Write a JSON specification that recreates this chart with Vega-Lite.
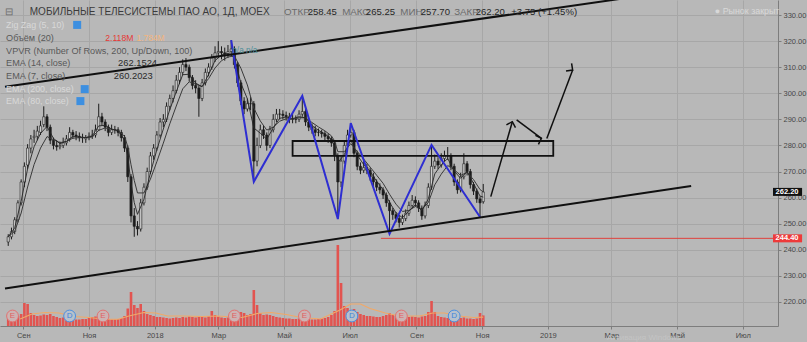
{
"$schema":"https://vega.github.io/schema/vega-lite/v6.json",
"width":778,"height":326,
"autosize":{"type":"none"},
"padding":{"left":0,"top":0,"right":29,"bottom":16},
"background":"#b8b8b8",
"config":{"view":{"stroke":null},"font":"Liberation Sans","axis":{"gridColor":"#a7a7a7","gridWidth":1,"domainColor":"#7d7d7d","tickColor":"#7d7d7d","labelColor":"#474747","labelFontSize":7.5,"labelFont":"Liberation Sans","labelOverlap":false}},
"datasets":{
"candles":[
{"d":"2017-08-18","o":243,"h":246,"l":241.5,"c":245,"v":1.5},
{"d":"2017-08-21","o":245,"h":248.5,"l":244,"c":247,"v":1.3},
{"d":"2017-08-24","o":247,"h":252.5,"l":246,"c":251.5,"v":1.6},
{"d":"2017-08-27","o":251.5,"h":259,"l":250.5,"c":258,"v":2.0},
{"d":"2017-08-30","o":258,"h":267,"l":257,"c":266,"v":2.4},
{"d":"2017-09-02","o":266,"h":273.5,"l":264,"c":272,"v":4.6},
{"d":"2017-09-05","o":272.5,"h":280.5,"l":271,"c":279,"v":4.4},
{"d":"2017-09-08","o":279,"h":284,"l":277,"c":282.5,"v":2.6},
{"d":"2017-09-11","o":283,"h":286,"l":281,"c":283.5,"v":2.2},
{"d":"2017-09-14","o":283.5,"h":287.5,"l":282,"c":285.5,"v":2.0},
{"d":"2017-09-17","o":285,"h":289.5,"l":284,"c":287.5,"v":2.1},
{"d":"2017-09-20","o":288,"h":295,"l":287,"c":291,"v":2.3},
{"d":"2017-09-23","o":291,"h":292,"l":285.5,"c":287,"v":2.2},
{"d":"2017-09-26","o":287,"h":288,"l":280.5,"c":282,"v":2.4},
{"d":"2017-09-29","o":282,"h":283,"l":278.5,"c":280,"v":2.0},
{"d":"2017-10-02","o":280,"h":282,"l":278,"c":279.5,"v":1.8},
{"d":"2017-10-05","o":279.5,"h":281.5,"l":278.5,"c":280,"v":1.6},
{"d":"2017-10-08","o":280,"h":283,"l":279,"c":281,"v":1.7},
{"d":"2017-10-11","o":281,"h":284,"l":280,"c":282.5,"v":1.5},
{"d":"2017-10-14","o":282.5,"h":287,"l":281.5,"c":285,"v":1.5},
{"d":"2017-10-17","o":285,"h":286,"l":282.5,"c":284,"v":1.4},
{"d":"2017-10-20","o":284,"h":285.5,"l":282,"c":283.5,"v":1.3},
{"d":"2017-10-23","o":283.5,"h":285,"l":281.5,"c":283,"v":1.3},
{"d":"2017-10-26","o":283,"h":284.5,"l":281,"c":283,"v":1.4},
{"d":"2017-10-29","o":282.5,"h":284,"l":281,"c":283,"v":1.4},
{"d":"2017-11-01","o":283,"h":285,"l":282,"c":283.5,"v":1.6},
{"d":"2017-11-04","o":283.5,"h":286,"l":282.5,"c":284,"v":1.8},
{"d":"2017-11-07","o":284,"h":288,"l":283,"c":286,"v":1.9},
{"d":"2017-11-10","o":286,"h":296,"l":285.5,"c":291,"v":2.0},
{"d":"2017-11-13","o":291,"h":292.5,"l":287.5,"c":289,"v":1.5},
{"d":"2017-11-16","o":289,"h":290,"l":285.5,"c":287,"v":1.4},
{"d":"2017-11-19","o":287,"h":288,"l":283.5,"c":285,"v":1.4},
{"d":"2017-11-22","o":285,"h":288,"l":284,"c":286,"v":1.3},
{"d":"2017-11-25","o":286,"h":287.5,"l":284.5,"c":286,"v":1.3},
{"d":"2017-11-28","o":286,"h":287,"l":283.5,"c":285,"v":1.4},
{"d":"2017-12-01","o":285,"h":286,"l":281.5,"c":283,"v":1.6},
{"d":"2017-12-04","o":283,"h":284,"l":277.5,"c":279,"v":2.0},
{"d":"2017-12-07","o":279,"h":280,"l":266,"c":268,"v":3.5},
{"d":"2017-12-10","o":268,"h":269,"l":250.5,"c":253,"v":6.8},
{"d":"2017-12-13","o":253,"h":256,"l":245,"c":249,"v":4.2},
{"d":"2017-12-16","o":249,"h":251,"l":245.5,"c":248,"v":3.6},
{"d":"2017-12-19","o":248,"h":259.5,"l":247,"c":258,"v":4.4},
{"d":"2017-12-22","o":258,"h":265.5,"l":257,"c":264,"v":3.0},
{"d":"2017-12-25","o":264,"h":271.5,"l":263,"c":270,"v":2.4},
{"d":"2017-12-28","o":270,"h":277.5,"l":269,"c":276,"v":2.2},
{"d":"2017-12-31","o":276,"h":280.5,"l":274.5,"c":279,"v":2.0},
{"d":"2018-01-03","o":279,"h":285.5,"l":278,"c":284,"v":1.8},
{"d":"2018-01-06","o":284,"h":290.5,"l":283,"c":289,"v":1.8},
{"d":"2018-01-09","o":289,"h":292,"l":287,"c":290,"v":1.7},
{"d":"2018-01-12","o":290,"h":296.5,"l":289,"c":295,"v":1.6},
{"d":"2018-01-15","o":295,"h":299.5,"l":293.5,"c":298,"v":1.5},
{"d":"2018-01-18","o":298,"h":303,"l":296.5,"c":301,"v":1.6},
{"d":"2018-01-21","o":301,"h":307,"l":300,"c":305,"v":1.7},
{"d":"2018-01-24","o":305,"h":310,"l":303.5,"c":308,"v":1.6},
{"d":"2018-01-27","o":308,"h":313,"l":307,"c":311,"v":1.8},
{"d":"2018-01-30","o":311,"h":313.5,"l":308.5,"c":310,"v":1.7},
{"d":"2018-02-02","o":310,"h":311,"l":304.5,"c":306,"v":1.9},
{"d":"2018-02-05","o":306,"h":307,"l":301.5,"c":303,"v":1.8},
{"d":"2018-02-08","o":303,"h":305,"l":300,"c":302,"v":1.7},
{"d":"2018-02-11","o":302,"h":303,"l":291,"c":298,"v":1.9},
{"d":"2018-02-14","o":298,"h":305.5,"l":297,"c":304,"v":1.8},
{"d":"2018-02-17","o":304,"h":309.5,"l":303,"c":308,"v":1.7},
{"d":"2018-02-20","o":308,"h":311.5,"l":306.5,"c":310,"v":2.0},
{"d":"2018-02-23","o":310,"h":315,"l":309,"c":313.5,"v":3.0},
{"d":"2018-02-26","o":313.5,"h":318,"l":312,"c":315.5,"v":2.2},
{"d":"2018-03-01","o":315.5,"h":320,"l":313.5,"c":316,"v":1.9},
{"d":"2018-03-04","o":316,"h":318,"l":313,"c":315.5,"v":1.7},
{"d":"2018-03-07","o":315.5,"h":317.5,"l":312.5,"c":315,"v":1.6},
{"d":"2018-03-10","o":315,"h":318.5,"l":313.5,"c":316,"v":1.7},
{"d":"2018-03-13","o":316,"h":320.4,"l":314.5,"c":317,"v":1.8},
{"d":"2018-03-16","o":317,"h":318,"l":309.5,"c":311,"v":2.0},
{"d":"2018-03-19","o":311,"h":312,"l":302.5,"c":304,"v":2.4},
{"d":"2018-03-22","o":304,"h":305,"l":295.5,"c":297,"v":2.8},
{"d":"2018-03-25","o":297,"h":298.5,"l":292,"c":294,"v":2.6},
{"d":"2018-03-28","o":294,"h":298,"l":293,"c":296,"v":2.2},
{"d":"2018-03-31","o":296,"h":298.5,"l":293.5,"c":296,"v":2.4},
{"d":"2018-04-03","o":296,"h":297,"l":266.1,"c":274,"v":7.2},
{"d":"2018-04-06","o":274,"h":283,"l":272,"c":280,"v":4.2},
{"d":"2018-04-09","o":280,"h":288,"l":279,"c":286,"v":2.6},
{"d":"2018-04-12","o":286,"h":287.5,"l":282.5,"c":284,"v":2.2},
{"d":"2018-04-15","o":284,"h":285,"l":278,"c":280,"v":2.3},
{"d":"2018-04-18","o":280,"h":287.5,"l":279,"c":286,"v":2.2},
{"d":"2018-04-21","o":286,"h":292,"l":285,"c":290,"v":2.0},
{"d":"2018-04-24","o":290,"h":294,"l":289,"c":292,"v":1.8},
{"d":"2018-04-27","o":292,"h":294,"l":290,"c":292,"v":1.7},
{"d":"2018-04-30","o":292,"h":293.5,"l":290,"c":291.5,"v":1.6},
{"d":"2018-05-03","o":291.5,"h":293,"l":289.5,"c":291,"v":1.5},
{"d":"2018-05-06","o":291,"h":292.5,"l":288.5,"c":290,"v":1.5},
{"d":"2018-05-09","o":290,"h":292,"l":288.5,"c":290,"v":1.4},
{"d":"2018-05-12","o":290,"h":291.5,"l":288.5,"c":290,"v":1.4},
{"d":"2018-05-15","o":290,"h":293.5,"l":289,"c":292,"v":1.5},
{"d":"2018-05-18","o":292,"h":299,"l":291,"c":293,"v":1.8},
{"d":"2018-05-21","o":293,"h":294,"l":287.5,"c":289,"v":1.6},
{"d":"2018-05-24","o":289,"h":290,"l":285.5,"c":287,"v":1.4},
{"d":"2018-05-27","o":287,"h":288.5,"l":284.5,"c":286,"v":1.3},
{"d":"2018-05-30","o":286,"h":287.5,"l":283.5,"c":285,"v":1.3},
{"d":"2018-06-02","o":285,"h":286.5,"l":283.5,"c":285,"v":1.4},
{"d":"2018-06-05","o":285,"h":286,"l":283,"c":284.5,"v":1.5},
{"d":"2018-06-08","o":284.5,"h":285.5,"l":282,"c":283.5,"v":1.6},
{"d":"2018-06-11","o":283.5,"h":284.5,"l":281,"c":282.5,"v":1.8},
{"d":"2018-06-14","o":282.5,"h":283.5,"l":279.5,"c":281,"v":2.2},
{"d":"2018-06-17","o":281,"h":282,"l":274,"c":276,"v":3.0},
{"d":"2018-06-20","o":276,"h":277,"l":251.8,"c":266,"v":16.2},
{"d":"2018-06-23","o":266,"h":276,"l":264,"c":274,"v":8.6},
{"d":"2018-06-26","o":274,"h":282,"l":273,"c":280,"v":4.0},
{"d":"2018-06-29","o":280,"h":286,"l":279,"c":284,"v":3.6},
{"d":"2018-07-02","o":284,"h":288.6,"l":283,"c":285,"v":3.0},
{"d":"2018-07-05","o":285,"h":286,"l":275.5,"c":277,"v":3.4},
{"d":"2018-07-08","o":277,"h":278,"l":270.5,"c":272,"v":2.8},
{"d":"2018-07-11","o":272,"h":273.5,"l":269,"c":270.5,"v":2.4},
{"d":"2018-07-14","o":270.5,"h":274,"l":269.5,"c":271.5,"v":2.2},
{"d":"2018-07-17","o":271.5,"h":273,"l":269,"c":270.5,"v":2.0},
{"d":"2018-07-20","o":270.5,"h":271.5,"l":266.5,"c":268,"v":2.0},
{"d":"2018-07-23","o":268,"h":269.5,"l":264.5,"c":266,"v":1.9},
{"d":"2018-07-26","o":266,"h":267,"l":262.5,"c":264,"v":1.8},
{"d":"2018-07-29","o":264,"h":265.5,"l":261.5,"c":263,"v":1.8},
{"d":"2018-08-01","o":263,"h":264,"l":259.5,"c":261,"v":2.0},
{"d":"2018-08-04","o":261,"h":262,"l":256.5,"c":258,"v":2.2},
{"d":"2018-08-07","o":258,"h":259,"l":246.1,"c":255,"v":2.6},
{"d":"2018-08-10","o":255,"h":256,"l":251.5,"c":253.5,"v":2.2},
{"d":"2018-08-13","o":253.5,"h":254.5,"l":250.5,"c":252,"v":2.0},
{"d":"2018-08-16","o":252,"h":253,"l":248.5,"c":250.5,"v":1.8},
{"d":"2018-08-19","o":250.5,"h":253.5,"l":249.5,"c":252,"v":1.6},
{"d":"2018-08-22","o":252,"h":255.5,"l":251,"c":254,"v":1.7},
{"d":"2018-08-25","o":254,"h":258.5,"l":253,"c":257,"v":1.8},
{"d":"2018-08-28","o":257,"h":261,"l":256,"c":259,"v":1.9},
{"d":"2018-08-31","o":259,"h":260.5,"l":256.5,"c":258,"v":1.8},
{"d":"2018-09-03","o":258,"h":259,"l":254.5,"c":256,"v":1.7},
{"d":"2018-09-06","o":256,"h":257,"l":251.5,"c":253,"v":1.9},
{"d":"2018-09-09","o":253,"h":258.5,"l":252,"c":257,"v":2.0},
{"d":"2018-09-12","o":257,"h":265.5,"l":256,"c":264,"v":2.8},
{"d":"2018-09-15","o":264,"h":280.2,"l":263,"c":272,"v":5.0},
{"d":"2018-09-18","o":272,"h":276.5,"l":271,"c":274,"v":2.8},
{"d":"2018-09-21","o":274,"h":275.5,"l":271,"c":272.5,"v":2.0},
{"d":"2018-09-24","o":272.5,"h":277,"l":271.5,"c":275,"v":1.8},
{"d":"2018-09-27","o":275,"h":278,"l":274,"c":276,"v":1.7},
{"d":"2018-09-30","o":276,"h":279.4,"l":274.5,"c":276,"v":1.6},
{"d":"2018-10-03","o":276,"h":277,"l":270.5,"c":272,"v":1.8},
{"d":"2018-10-06","o":272,"h":273,"l":264.5,"c":266,"v":1.7},
{"d":"2018-10-09","o":266,"h":267,"l":261.5,"c":263,"v":1.6},
{"d":"2018-10-12","o":263,"h":269.5,"l":262,"c":268,"v":1.6},
{"d":"2018-10-15","o":268,"h":277,"l":267,"c":273,"v":1.7},
{"d":"2018-10-18","o":273,"h":274,"l":268.5,"c":270,"v":1.5},
{"d":"2018-10-21","o":270,"h":271,"l":263.5,"c":265,"v":1.5},
{"d":"2018-10-24","o":265,"h":266,"l":261,"c":262.5,"v":1.4},
{"d":"2018-10-27","o":262.5,"h":263.5,"l":258,"c":259.5,"v":1.5},
{"d":"2018-10-30","o":259.5,"h":260.5,"l":252.6,"c":258,"v":2.6},
{"d":"2018-11-02","o":258.45,"h":265.25,"l":257.7,"c":262.2,"v":2.118}
],
"ema":[
{"d":"2017-08-18","e7":245,"e14":245},{"d":"2017-08-24","e7":248.4,"e14":247.1},{"d":"2017-08-30","e7":258.7,"e14":254.1},{"d":"2017-09-05","e7":271.1,"e14":264.1},{"d":"2017-09-11","e7":279.5,"e14":272.7},{"d":"2017-09-17","e7":284.6,"e14":279.0},{"d":"2017-09-23","e7":287.3,"e14":283.4},{"d":"2017-09-29","e7":282.7,"e14":282.2},{"d":"2017-10-05","e7":280.7,"e14":281.1},{"d":"2017-10-11","e7":281.6,"e14":281.5},{"d":"2017-10-17","e7":283.5,"e14":282.8},{"d":"2017-10-23","e7":283.3,"e14":283.0},{"d":"2017-10-29","e7":283.0,"e14":283.0},{"d":"2017-11-04","e7":283.6,"e14":283.3},{"d":"2017-11-10","e7":287.5,"e14":285.8},{"d":"2017-11-16","e7":287.7,"e14":286.7},{"d":"2017-11-22","e7":286.3,"e14":286.2},{"d":"2017-11-28","e7":285.6,"e14":285.8},{"d":"2017-12-04","e7":282.0,"e14":283.5},{"d":"2017-12-07","e7":275.7,"e14":279.5},{"d":"2017-12-10","e7":265.5,"e14":272.6},{"d":"2017-12-13","e7":258.1,"e14":266.6},{"d":"2017-12-16","e7":253.6,"e14":261.8},{"d":"2017-12-22","e7":259.4,"e14":261.8},{"d":"2017-12-28","e7":269.5,"e14":267.1},{"d":"2018-01-03","e7":278.4,"e14":273.8},{"d":"2018-01-09","e7":286.3,"e14":280.9},{"d":"2018-01-15","e7":293.7,"e14":288.3},{"d":"2018-01-21","e7":300.6,"e14":295.1},{"d":"2018-01-27","e7":307.1,"e14":301.7},{"d":"2018-02-02","e7":307.3,"e14":304.4},{"d":"2018-02-08","e7":303.9,"e14":303.5},{"d":"2018-02-14","e7":302.5,"e14":302.6},{"d":"2018-02-20","e7":307.2,"e14":305.6},{"d":"2018-02-26","e7":312.5,"e14":309.7},{"d":"2018-03-04","e7":314.7,"e14":312.5},{"d":"2018-03-10","e7":315.3,"e14":313.9},{"d":"2018-03-16","e7":313.8,"e14":314.3},{"d":"2018-03-22","e7":303.8,"e14":309.6},{"d":"2018-03-28","e7":297.9,"e14":303.2},{"d":"2018-04-03","e7":286.7,"e14":294.3},{"d":"2018-04-09","e7":284.7,"e14":289.4},{"d":"2018-04-15","e7":282.4,"e14":285.9},{"d":"2018-04-21","e7":286.7,"e14":287.0},{"d":"2018-04-27","e7":290.4,"e14":289.3},{"d":"2018-05-03","e7":290.9,"e14":290.2},{"d":"2018-05-09","e7":290.3,"e14":290.1},{"d":"2018-05-15","e7":291.0,"e14":290.6},{"d":"2018-05-21","e7":290.6,"e14":290.6},{"d":"2018-05-27","e7":287.6,"e14":288.8},{"d":"2018-06-02","e7":285.8,"e14":287.1},{"d":"2018-06-08","e7":284.4,"e14":285.6},{"d":"2018-06-14","e7":282.4,"e14":283.7},{"d":"2018-06-17","e7":279.5,"e14":281.7},{"d":"2018-06-20","e7":273.4,"e14":277.6},{"d":"2018-06-26","e7":276.5,"e14":277.6},{"d":"2018-07-02","e7":282.2,"e14":280.7},{"d":"2018-07-08","e7":276.3,"e14":277.7},{"d":"2018-07-14","e7":272.7,"e14":274.8},{"d":"2018-07-20","e7":270.0,"e14":271.7},{"d":"2018-07-26","e7":266.3,"e14":268.6},{"d":"2018-08-01","e7":263.1,"e14":265.5},{"d":"2018-08-07","e7":258.2,"e14":261.3},{"d":"2018-08-13","e7":254.2,"e14":257.5},{"d":"2018-08-19","e7":252.3,"e14":254.7},{"d":"2018-08-25","e7":254.8,"e14":255.1},{"d":"2018-08-31","e7":257.3,"e14":256.6},{"d":"2018-09-06","e7":255.0,"e14":255.5},{"d":"2018-09-12","e7":259.5,"e14":258.1},{"d":"2018-09-18","e7":269.1,"e14":264.9},{"d":"2018-09-24","e7":272.6,"e14":269.0},{"d":"2018-09-30","e7":275.0,"e14":272.3},{"d":"2018-10-06","e7":270.2,"e14":270.7},{"d":"2018-10-12","e7":267.4,"e14":268.5},{"d":"2018-10-18","e7":270.0,"e14":269.7},{"d":"2018-10-24","e7":265.4,"e14":266.9},{"d":"2018-10-30","e7":260.6,"e14":263.1},{"d":"2018-11-02","e7":260.2,"e14":262.15}
],
"vma":[
{"d":"2017-08-29","m":1.4},{"d":"2017-09-09","m":2.4},{"d":"2017-09-21","m":2.7},{"d":"2017-10-04","m":2.6},{"d":"2017-10-18","m":1.9},{"d":"2017-11-01","m":1.7},{"d":"2017-11-15","m":1.35},{"d":"2017-11-28","m":1.35},{"d":"2017-12-08","m":2.0},{"d":"2017-12-22","m":2.7},{"d":"2018-01-02","m":2.6},{"d":"2018-01-13","m":2.0},{"d":"2018-01-27","m":2.0},{"d":"2018-02-14","m":1.9},{"d":"2018-02-28","m":2.0},{"d":"2018-03-23","m":1.7},{"d":"2018-04-06","m":2.5},{"d":"2018-04-19","m":2.7},{"d":"2018-05-03","m":2.3},{"d":"2018-05-17","m":1.7},{"d":"2018-06-04","m":1.4},{"d":"2018-06-13","m":2.3},{"d":"2018-06-22","m":3.2},{"d":"2018-07-02","m":4.4},{"d":"2018-07-11","m":4.4},{"d":"2018-07-20","m":3.5},{"d":"2018-08-03","m":2.6},{"d":"2018-08-16","m":2.0},{"d":"2018-09-04","m":2.0},{"d":"2018-09-16","m":2.6},{"d":"2018-09-27","m":2.6},{"d":"2018-10-10","m":2.0},{"d":"2018-10-24","m":1.7},{"d":"2018-11-02","m":1.78}
],
"events":[
{"d":"2017-08-22","k":"E"},{"d":"2017-10-14","k":"D"},{"d":"2017-11-14","k":"E"},{"d":"2018-03-16","k":"E"},{"d":"2018-05-20","k":"E"},{"d":"2018-07-03","k":"D"},{"d":"2018-08-18","k":"E"},{"d":"2018-10-06","k":"D"}
],
"zigzag":[
{"d":"2018-03-13","p":320.4},{"d":"2018-04-03","p":266.1},{"d":"2018-05-18","p":299.0},{"d":"2018-06-20","p":251.8},{"d":"2018-07-02","p":288.6},{"d":"2018-08-07","p":246.1},{"d":"2018-09-15","p":280.2},{"d":"2018-10-30","p":252.6}
],
"trend":[
{"d1":"2017-08-15","p1":302.5,"d2":"2019-05-18","p2":340.3},
{"d1":"2017-08-15","p1":225.2,"d2":"2019-05-14","p2":264.5}
],
"arrows":[
{"id":"a1","d1":"2018-11-09","p1":260.4,"d2":"2018-11-29","p2":289.1},
{"id":"a2","d1":"2018-12-03","p1":289.8,"d2":"2018-12-26","p2":282.7},
{"id":"a3","d1":"2018-12-31","p1":282.7,"d2":"2019-01-24","p2":308.9}
],
"vpvr":[
{"p":239,"w":2},{"p":240,"w":3},{"p":241,"w":5},{"p":242,"w":8},{"p":243,"w":5},{"p":244,"w":7},{"p":245,"w":8},{"p":246,"w":11},{"p":247,"w":11},{"p":248,"w":18},{"p":249,"w":28},{"p":250,"w":38},{"p":251,"w":45},{"p":252,"w":56},{"p":253,"w":51},{"p":254,"w":46},{"p":255,"w":50},{"p":256,"w":53},{"p":257,"w":55},{"p":258,"w":60},{"p":259,"w":62},{"p":260,"w":65},{"p":261,"w":71},{"p":262,"w":78},{"p":263,"w":78},{"p":264,"w":71},{"p":265,"w":66},{"p":266,"w":71},{"p":267,"w":63},{"p":268,"w":55},{"p":269,"w":62},{"p":270,"w":65},{"p":271,"w":68},{"p":272,"w":71},{"p":273,"w":76},{"p":274,"w":78},{"p":275,"w":83},{"p":276,"w":80},{"p":277,"w":89},{"p":278,"w":86},{"p":279,"w":78},{"p":280,"w":71},{"p":281,"w":101},{"p":282,"w":128},{"p":283,"w":143},{"p":284,"w":125},{"p":285,"w":115},{"p":286,"w":105},{"p":287,"w":95},{"p":288,"w":82},{"p":289,"w":72},{"p":290,"w":78},{"p":291,"w":75},{"p":292,"w":68},{"p":293,"w":62},{"p":294,"w":52},{"p":295,"w":55},{"p":296,"w":48},{"p":297,"w":38},{"p":298,"w":28},{"p":299,"w":25},{"p":300,"w":32},{"p":301,"w":25},{"p":302,"w":21},{"p":303,"w":25},{"p":304,"w":23},{"p":305,"w":21},{"p":306,"w":20},{"p":307,"w":21},{"p":308,"w":18},{"p":309,"w":21},{"p":310,"w":20},{"p":311,"w":18},{"p":312,"w":21},{"p":313,"w":23},{"p":314,"w":21},{"p":315,"w":18},{"p":316,"w":15},{"p":317,"w":13},{"p":318,"w":11},{"p":319,"w":6},{"p":320,"w":2}
],
"tags":[
{"p":262.2,"t":"262.20","k":"close"},{"p":244.4,"t":"244.40","k":"low"}
],
"icons":[
{"d":"2017-10-21","p":326.2},{"d":"2017-10-28","p":301.6},{"d":"2017-10-24","p":297.0}
],
"texts":[
{"t":"⊟","d":"2017-08-15","p":331.15,"k":"lab"},
{"t":"МОБИЛЬНЫЕ ТЕЛЕСИСТЕМЫ ПАО АО, 1Д, MOEX","d":"2017-09-07","p":331.15,"k":"title"},
{"t":"ОТКР","d":"2018-05-01","p":331.15,"k":"lab"},
{"t":"258.45","d":"2018-05-23","p":331.15,"k":"val"},
{"t":"МАКС","d":"2018-06-24","p":331.15,"k":"lab"},
{"t":"265.25","d":"2018-07-16","p":331.15,"k":"val"},
{"t":"МИН","d":"2018-08-17","p":331.15,"k":"lab"},
{"t":"257.70","d":"2018-09-05","p":331.15,"k":"val"},
{"t":"ЗАКР","d":"2018-10-06","p":331.15,"k":"lab"},
{"t":"262.20","d":"2018-10-26","p":331.15,"k":"val"},
{"t":"+3.75 (+1.45%)","d":"2018-11-28","p":331.15,"k":"val"},
{"t":"● Рынок закрыт","d":"2019-06-05","p":331.5,"k":"off"},
{"t":"Zig Zag (5, 10)","d":"2017-08-16","p":326.2,"k":"off"},
{"t":"Объём (20)","d":"2017-08-16","p":321.3,"k":"leg"},
{"t":"2.118M","d":"2017-11-16","p":321.3,"k":"red"},
{"t":"1.784M","d":"2017-12-15","p":321.3,"k":"orange"},
{"t":"VPVR (Number Of Rows, 200, Up/Down, 100)","d":"2017-08-16","p":316.2,"k":"leg"},
{"t":"n/a   n/a","d":"2018-03-14","p":316.2,"k":"teal"},
{"t":"EMA (14, close)","d":"2017-08-16","p":311.6,"k":"leg"},
{"t":"262.1524","d":"2017-11-28","p":311.6,"k":"val2"},
{"t":"EMA (7, close)","d":"2017-08-16","p":306.6,"k":"leg"},
{"t":"260.2023","d":"2017-11-24","p":306.6,"k":"val2"},
{"t":"EMA (200, close)","d":"2017-08-16","p":301.6,"k":"off"},
{"t":"EMA (80, close)","d":"2017-08-16","p":297.0,"k":"off"},
{"t":"Активация Windows","d":"2019-02-25","p":206.2,"k":"wm"}
]
},
"resolve":{"scale":{"x":"independent","y":"independent","color":"independent","fill":"independent","stroke":"independent","size":"independent","angle":"independent"}},
"layer":[
{
"data":{"name":"vpvr"},
"mark":{"type":"rect","color":"#4f8e98"},
"encoding":{
"x":{"field":"w","type":"quantitative","scale":{"domain":[0,778],"reverse":true},"axis":null},
"x2":{"datum":0},
"y":{"field":"p","type":"quantitative","bin":{"binned":true,"step":1},"scale":{"domain":[210.8,335.75],"nice":false,"zero":false},"axis":null},
"y2":{"field":"p"}
}
},
{
"layer":[
{
"data":{"name":"candles"},
"mark":{"type":"bar","size":2.6,"color":"#e25450"},
"encoding":{
"x":{"field":"d","type":"temporal","scale":{"domain":["2017-08-15","2019-07-29"]},"axis":null},
"y":{"field":"v","type":"quantitative","scale":{"domain":[0,65.2],"nice":false},"axis":null}
}
},
{
"data":{"name":"vma"},
"mark":{"type":"line","color":"#f2a866","strokeWidth":1.2},
"encoding":{
"x":{"field":"d","type":"temporal","axis":null},
"y":{"field":"m","type":"quantitative","axis":null}
}
},
{
"data":{"name":"events"},
"mark":{"type":"point","shape":"circle","filled":true,"size":140,"strokeWidth":1},
"encoding":{
"x":{"field":"d","type":"temporal","axis":null},
"y":{"datum":2,"type":"quantitative","axis":null},
"fill":{"field":"k","type":"nominal","scale":{"domain":["E","D"],"range":["#cdb3b3","#b6c1cd"]},"legend":null},
"stroke":{"field":"k","type":"nominal","scale":{"domain":["E","D"],"range":["#e07373","#4a8fe0"]},"legend":null},
"opacity":{"value":1}
}
},
{
"data":{"name":"events"},
"mark":{"type":"text","fontSize":8,"align":"center","baseline":"middle"},
"encoding":{
"x":{"field":"d","type":"temporal","axis":null},
"y":{"datum":2,"type":"quantitative","axis":null},
"text":{"field":"k"},
"color":{"field":"k","type":"nominal","scale":{"domain":["E","D"],"range":["#e06262","#3f86dc"]},"legend":null}
}
}
]
},
{
"layer":[
{
"data":{"name":"candles"},
"mark":{"type":"rule","color":"#1c1c1c","strokeWidth":1},
"encoding":{
"x":{"field":"d","type":"temporal","title":null,"scale":{"domain":["2017-08-15","2019-07-29"]},
"axis":{"orient":"bottom","grid":true,"tickSize":3,"labelPadding":2,"labelFontSize":7.5,"labelOverlap":false,
"values":[{"year":2017,"month":9,"date":1,"utc":true},{"year":2017,"month":11,"date":1,"utc":true},{"year":2018,"month":1,"date":1,"utc":true},{"year":2018,"month":3,"date":1,"utc":true},{"year":2018,"month":5,"date":1,"utc":true},{"year":2018,"month":7,"date":1,"utc":true},{"year":2018,"month":9,"date":1,"utc":true},{"year":2018,"month":11,"date":1,"utc":true},{"year":2019,"month":1,"date":1,"utc":true},{"year":2019,"month":3,"date":1,"utc":true},{"year":2019,"month":5,"date":1,"utc":true},{"year":2019,"month":7,"date":1,"utc":true}],
"labelExpr":"utcmonth(datum.value)==0 ? utcFormat(datum.value,'%Y') : ['Янв','Фев','Мар','Апр','Май','Июн','Июл','Авг','Сен','Окт','Ноя','Дек'][utcmonth(datum.value)]"}},
"y":{"field":"l","type":"quantitative","title":null,"scale":{"domain":[210.8,335.75],"nice":false,"zero":false},
"axis":{"orient":"right","grid":true,"values":[220,230,240,250,260,270,280,290,300,310,320,330],"tickCount":13,"labelOverlap":false,"format":".2f","tickSize":3,"labelPadding":2,"labelFontSize":7.5}},
"y2":{"field":"h"}
}
},
{
"data":{"name":"candles"},
"mark":{"type":"bar","size":2.2,"stroke":"#1c1c1c","strokeWidth":0.6},
"encoding":{
"x":{"field":"d","type":"temporal","title":null},
"y":{"field":"o","type":"quantitative","title":null},
"y2":{"field":"c"},
"fill":{"condition":{"test":"datum.c >= datum.o","value":"#cfcfcf"},"value":"#1c1c1c"}
}
},
{
"data":{"name":"ema"},
"mark":{"type":"line","color":"#3a3a3a","strokeWidth":1},
"encoding":{
"x":{"field":"d","type":"temporal","title":null},
"y":{"field":"e14","type":"quantitative","title":null}
}
},
{
"data":{"name":"ema"},
"mark":{"type":"line","color":"#262626","strokeWidth":0.9},
"encoding":{
"x":{"field":"d","type":"temporal","title":null},
"y":{"field":"e7","type":"quantitative","title":null}
}
},
{
"mark":{"type":"rule","color":"#1a1a1a","strokeDash":[1,2],"strokeWidth":1},
"encoding":{"y":{"datum":262.2,"type":"quantitative","title":null}}
},
{
"data":{"values":[{"d1":"2018-07-30","d2":"2019-07-29","p":244.4}]},
"mark":{"type":"rule","color":"#e0403c","strokeWidth":1},
"encoding":{
"x":{"field":"d1","type":"temporal","title":null},
"x2":{"field":"d2"},
"y":{"field":"p","type":"quantitative","title":null}
}
},
{
"data":{"values":[{"d1":"2018-05-09","d2":"2019-01-06","p1":276,"p2":281.7}]},
"mark":{"type":"rect","fill":null,"fillOpacity":0,"stroke":"#111111","strokeWidth":1.8},
"encoding":{
"x":{"field":"d1","type":"temporal","title":null},
"x2":{"field":"d2"},
"y":{"field":"p1","type":"quantitative","title":null},
"y2":{"field":"p2"}
}
},
{
"data":{"name":"zigzag"},
"mark":{"type":"line","color":"#2e2ed2","strokeWidth":2},
"encoding":{
"x":{"field":"d","type":"temporal","title":null},
"y":{"field":"p","type":"quantitative","title":null}
}
},
{
"data":{"name":"trend"},
"mark":{"type":"rule","color":"#101010","strokeWidth":2,"clip":true},
"encoding":{
"x":{"field":"d1","type":"temporal","title":null},
"x2":{"field":"d2"},
"y":{"field":"p1","type":"quantitative","title":null},
"y2":{"field":"p2"}
}
},
{
"data":{"name":"arrows"},
"mark":{"type":"rule","color":"#101010","strokeWidth":1.5},
"encoding":{
"x":{"field":"d1","type":"temporal","title":null},
"x2":{"field":"d2"},
"y":{"field":"p1","type":"quantitative","title":null},
"y2":{"field":"p2"}
}
},
{
"data":{"name":"arrows"},
"mark":{"type":"point","shape":"M-1,1L0,0L1,1","filled":false,"size":90,"strokeWidth":1.5,"color":"#101010","opacity":1},
"encoding":{
"x":{"field":"d2","type":"temporal","title":null},
"y":{"field":"p2","type":"quantitative","title":null},
"angle":{"field":"id","type":"nominal","scale":{"domain":["a1","a2","a3"],"range":[17,126,21]},"legend":null}
}
},
{
"data":{"name":"tags"},
"mark":{"type":"rule","strokeWidth":8,"strokeCap":"butt","clip":false},
"encoding":{
"x":{"datum":{"year":2019,"month":7,"date":29},"type":"temporal","title":null},
"x2":{"datum":{"year":2019,"month":8,"date":25}},
"y":{"field":"p","type":"quantitative","title":null},
"stroke":{"field":"k","type":"nominal","scale":{"domain":["close","low"],"range":["#111111","#ee3a3a"]},"legend":null}
}
},
{
"data":{"name":"tags"},
"mark":{"type":"text","color":"#ffffff","fontSize":7.5,"fontWeight":"bold","align":"center","baseline":"middle","clip":false},
"encoding":{
"x":{"datum":{"year":2019,"month":8,"date":11},"type":"temporal","title":null},
"y":{"field":"p","type":"quantitative","title":null},
"text":{"field":"t"}
}
},
{
"data":{"name":"icons"},
"mark":{"type":"square","size":64,"color":"#3d8fe0","opacity":1},
"encoding":{
"x":{"field":"d","type":"temporal","title":null},
"y":{"field":"p","type":"quantitative","title":null}
}
},
{
"data":{"name":"texts"},
"mark":{"type":"text","align":"left","baseline":"middle","clip":false},
"encoding":{
"x":{"field":"d","type":"temporal","title":null},
"y":{"field":"p","type":"quantitative","title":null},
"text":{"field":"t"},
"color":{"field":"k","type":"nominal","scale":{"domain":["title","lab","val","val2","leg","off","red","orange","teal","wm"],"range":["#3b3b3b","#6b6b6b","#262626","#2a2a2a","#585858","#d8d8d8","#e53935","#f3b57e","#4e8e98","#c4c4c4"]},"legend":null},
"size":{"field":"k","type":"nominal","scale":{"domain":["title","lab","val","val2","leg","off","red","orange","teal","wm"],"range":[10,8,9.2,7.5,7.5,7.5,7.5,7.5,7.5,12]},"legend":null}
}
}
]
}
]
}
